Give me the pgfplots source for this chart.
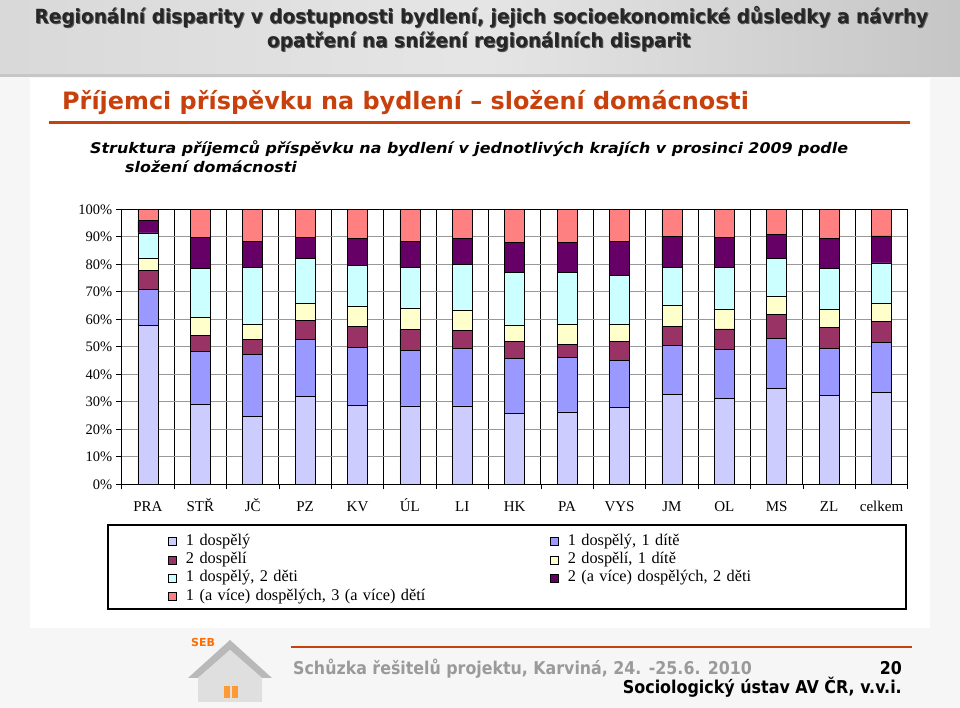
\documentclass[border=0pt]{standalone}
\usepackage{pgfplots}
\pgfplotsset{compat=1.18}
\usepackage{pgfplotstable}
\usepackage{fontspec}
\setmainfont{Liberation Serif}
\newfontfamily\dejavu{DejaVu Sans}
\newfontfamily\dejavucond{DejaVu Sans Condensed}
\definecolor{c1}{HTML}{CCCCFF}
\definecolor{c2}{HTML}{9999FF}
\definecolor{c3}{HTML}{993366}
\definecolor{c4}{HTML}{FFFFCC}
\definecolor{c5}{HTML}{CCFFFF}
\definecolor{c6}{HTML}{660066}
\definecolor{c7}{HTML}{FF8080}
\definecolor{orng}{HTML}{C8400C}
\definecolor{foot}{HTML}{9A9A9A}

\pgfplotstableread{
x  s1   s2   s3  s4  s5   s6   s7
0  57.6 13.2 6.9 4.5 9.2  4.4  4.2
1  29.0 19.4 5.8 6.4 17.9 11.3 10.2
2  24.7 22.5 5.5 5.4 20.9 9.2  11.8
3  31.8 20.8 7.0 6.1 16.5 7.6  10.2
4  28.6 21.3 7.6 7.1 14.9 10.0 10.5
5  28.5 20.3 7.5 7.5 15.2 9.2  11.8
6  28.5 20.8 6.5 7.5 16.7 9.3  10.7
7  25.7 20.0 6.1 5.8 19.4 10.9 12.1
8  26.3 19.9 4.8 7.2 18.8 10.9 12.1
9  28.0 17.1 6.7 6.3 17.8 12.3 11.8
10 32.8 17.6 7.0 7.6 13.9 11.3 9.8
11 31.3 17.7 7.5 7.0 15.5 10.9 10.1
12 35.0 18.1 8.8 6.5 13.8 8.8  9.0
13 32.2 17.1 7.8 6.4 15.0 11.0 10.5
14 33.5 18.1 7.7 6.4 14.8 9.8  9.7
}\datatable

\pgfplotsset{mybar/.style={fill=#1, draw=black, line width=0.8pt,
  legend image code/.code={\draw[fill=#1,draw=black,line width=0.8pt] (0pt,-4pt) rectangle (8pt,4pt);}}}

\newcommand\hdr[1]{\scalebox{1.055}[1]{#1}}
\newcommand\sub[1]{\scalebox{1.08}[1]{#1}}

\begin{document}
\begin{tikzpicture}[x=1pt,y=1pt]
\useasboundingbox (0,0) rectangle (960,708);
% slide background
\fill[gray!7] (0,0) rectangle (960,708);
\fill[white] (30,80) rectangle (930,630);
\shade[left color=gray!30, right color=gray!45, middle color=gray!20] (0,633) rectangle (960,708);
\fill[gray!45] (0,631) rectangle (960,634);
% header
\node[text=gray!70!black, font=\dejavucond\bfseries\fontsize{19.5}{21}\selectfont] at (482.5,690) {\hdr{Regionální disparity v dostupnosti bydlení, jejich socioekonomické důsledky a návrhy}};
\node[text=black!85, font=\dejavucond\bfseries\fontsize{19.5}{21}\selectfont] at (481.5,691) {\hdr{Regionální disparity v dostupnosti bydlení, jejich socioekonomické důsledky a návrhy}};
\node[text=gray!70!black, font=\dejavucond\bfseries\fontsize{19.5}{21}\selectfont] at (480,665) {\hdr{opatření na snížení regionálních disparit}};
\node[text=black!85, font=\dejavucond\bfseries\fontsize{19.5}{21}\selectfont] at (479,666) {\hdr{opatření na snížení regionálních disparit}};
% title
\node[anchor=base west, inner sep=0pt, text=orng, font=\dejavu\bfseries\fontsize{23.9}{26}\selectfont] at (62,598) {Příjemci příspěvku na bydlení – složení domácnosti};
\draw[orng, line width=3pt] (49,585.3) -- (910,585.3);
\node[anchor=base west, inner sep=0pt, font=\dejavu\bfseries\itshape\fontsize{14.7}{16}\selectfont] at (90,554) {\sub{Struktura příjemců příspěvku na bydlení v jednotlivých krajích v prosinci 2009 podle}};
\node[anchor=base west, inner sep=0pt, font=\dejavu\bfseries\itshape\fontsize{14.7}{16}\selectfont] at (125,535) {\sub{složení domácnosti}};
% chart area
\fill[white] (80,93) rectangle (930,515);
\draw[black, line width=1.2pt] (108,99) rectangle (906,183);
% footer
\draw[orng, line width=2pt] (291,61) -- (912,61);
\node[anchor=base west, inner sep=0pt, text=foot, font=\dejavucond\bfseries\fontsize{17.6}{19}\selectfont] at (293,33) {Schůzka řešitelů projektu, Karviná, 24. -25.6. 2010};
\node[anchor=base east, inner sep=0pt, font=\dejavucond\bfseries\fontsize{17.6}{19}\selectfont] at (902,33) {20};
\node[anchor=base east, inner sep=0pt, font=\dejavucond\bfseries\fontsize{17.7}{19}\selectfont] at (902,14) {Sociologický ústav AV ČR, v.v.i.};
% simple logo
\fill[gray!55] (188,30) -- (230,68) -- (272,30) -- (262,30) -- (230,58) -- (198,30) -- cycle;
\fill[gray!25] (198,30) -- (230,58) -- (262,30) -- (262,6) -- (198,6) -- cycle;
\fill[orange!80] (224,10) rectangle (230,22);
\fill[orange!80] (232,10) rectangle (238,22);
\node[text=orange!85!red, font=\dejavu\bfseries\fontsize{11}{11}\selectfont] at (203,66) {SEB};

\begin{axis}[
  at={(121.7pt,223.7pt)}, anchor=south west,
  scale only axis, width=786pt, height=275pt,
  ybar stacked, bar width=20pt,
  xmin=-0.5, xmax=14.5, ymin=0, ymax=100,
  xtick={0,...,14},
  xticklabels={PRA,STŘ,JČ,PZ,KV,ÚL,LI,HK,PA,VYS,JM,OL,MS,ZL,celkem},
  minor xtick={-0.5,0.5,...,14.5},
  xminorgrids, minor x grid style={black, line width=1pt},
  major x tick style={draw=none},
  ytick={0,10,...,100},
  yticklabels={0\%,10\%,20\%,30\%,40\%,50\%,60\%,70\%,80\%,90\%,100\%},
  ymajorgrids, major y grid style={black!40, line width=0.7pt},
  tick align=outside, major tick length=6pt, minor tick length=5pt,
  xtick pos=bottom, ytick pos=left,
  tick style={black, line width=0.8pt},
  axis line style={black, line width=1pt},
  tick label style={font=\fontsize{14.5}{15}\selectfont},
  xticklabel style={font=\fontsize{15}{16}\selectfont, yshift=-8pt, text height=10pt, text depth=3pt},
  legend columns=2,
  legend cell align=left,
  legend style={at={(0.0589,-0.175)}, anchor=north west, draw=none, fill=none,
    inner sep=0pt, font=\fontsize{16.3}{17}\selectfont,
    nodes={text width=362pt, align=left, inner ysep=1.65pt, text height=11pt, text depth=4pt},
    /tikz/every odd column/.append style={column sep=7pt},
  },
]
\addplot[mybar=c1] table[x=x,y=s1]{\datatable};
\addplot[mybar=c2] table[x=x,y=s2]{\datatable};
\addplot[mybar=c3] table[x=x,y=s3]{\datatable};
\addplot[mybar=c4] table[x=x,y=s4]{\datatable};
\addplot[mybar=c5] table[x=x,y=s5]{\datatable};
\addplot[mybar=c6] table[x=x,y=s6]{\datatable};
\addplot[mybar=c7] table[x=x,y=s7]{\datatable};
\legend{1 dospělý, 1 dospělý{,} 1 dítě, 2 dospělí, 2 dospělí{,} 1 dítě, 1 dospělý{,} 2 děti, 2 (a více) dospělých{,} 2 děti, 1 (a více) dospělých{,} 3 (a více) dětí}
\end{axis}
\end{tikzpicture}
\end{document}
